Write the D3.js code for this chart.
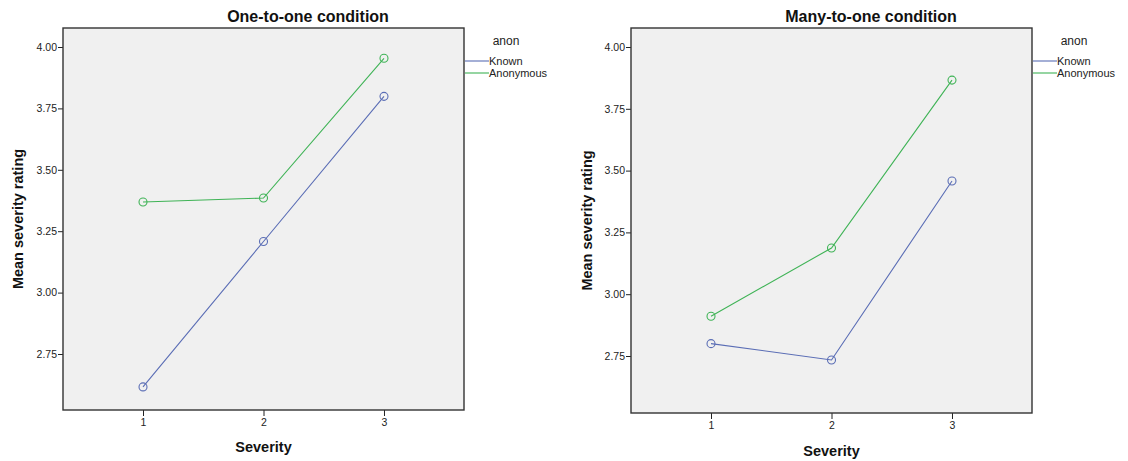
<!DOCTYPE html>
<html>
<head>
<meta charset="utf-8">
<script src="https://cdn.jsdelivr.net/npm/d3@7"></script>
<style>
html,body{margin:0;padding:0;background:#fff;}
svg{display:block;font-family:"Liberation Sans",Arial,sans-serif;}
</style>
</head>
<body>
<svg id="chart" width="1128" height="461"></svg>
<script>
const severity = [1, 2, 3];
const xTickLabels = ["1", "2", "3"];
const yTicks = [2.75, 3.00, 3.25, 3.50, 3.75, 4.00];
const seriesNames = ["Known", "Anonymous"];
const seriesColors = ["#5a6db5", "#3fb356"];
const panelTitles = ["One-to-one condition", "Many-to-one condition"];
const oneToOneKnown = [2.616, 3.208, 3.799];
const oneToOneAnonymous = [3.369, 3.385, 3.954];
const manyToOneKnown = [2.800, 2.734, 3.458];
const manyToOneAnonymous = [2.911, 3.187, 3.866];
const legendTitle = "anon";
const xTitle = "Severity";
const yTitle = "Mean severity rating";

const panels = [
  {title: panelTitles[0], series: [oneToOneKnown, oneToOneAnonymous],
   x0: 63, x1: 464, y0: 28, y1: 410, yAt4: 47, yAt275: 354, titleX: 308, yTitleX: 17, xTitleY: 452},
  {title: panelTitles[1], series: [manyToOneKnown, manyToOneAnonymous],
   x0: 631, x1: 1032, y0: 28, y1: 413, yAt4: 47, yAt275: 356, titleX: 871, yTitleX: 586, xTitleY: 456}
];

const svg = d3.select("#chart");

panels.forEach(p => {
  const g = svg.append("g");
  const x = d3.scaleLinear().domain([1 - 0.664, 3 + 0.664]).range([p.x0, p.x1]);
  const y = d3.scaleLinear().domain([2.75, 4.00]).range([p.yAt275, p.yAt4]);

  g.append("rect").attr("x", p.x0).attr("y", p.y0)
    .attr("width", p.x1 - p.x0).attr("height", p.y1 - p.y0)
    .attr("fill", "#f0f0f0").attr("stroke", "none");

  // y axis
  const yAxis = g.append("g").attr("transform", `translate(${p.x0},0)`)
    .call(d3.axisLeft(y).tickValues(yTicks).tickFormat(d3.format(".2f")).tickSize(5).tickPadding(1));
  yAxis.select(".domain").remove();
  yAxis.selectAll("line").attr("stroke", "#222");
  yAxis.selectAll("text").attr("font-size", 10.5).attr("fill", "#222").attr("font-family", "Liberation Sans, Arial, sans-serif");

  // x axis
  const xAxis = g.append("g").attr("transform", `translate(0,${p.y1})`)
    .call(d3.axisBottom(x).tickValues(severity).tickFormat((d, i) => xTickLabels[i]).tickSize(6).tickPadding(3));
  xAxis.select(".domain").remove();
  xAxis.selectAll("line").attr("stroke", "#222");
  xAxis.selectAll("text").attr("font-size", 10.5).attr("fill", "#222").attr("font-family", "Liberation Sans, Arial, sans-serif");

  // frame
  g.append("rect").attr("x", p.x0).attr("y", p.y0)
    .attr("width", p.x1 - p.x0).attr("height", p.y1 - p.y0)
    .attr("fill", "none").attr("stroke", "#333").attr("stroke-width", 1.4);

  // lines
  const line = d3.line().x((d, i) => x(severity[i])).y(d => y(d));
  p.series.forEach((s, si) => {
    g.append("path").datum(s).attr("d", line)
      .attr("fill", "none").attr("stroke", seriesColors[si]).attr("stroke-width", 1.1);
    g.selectAll(null).data(s).enter().append("circle")
      .attr("cx", (d, i) => x(severity[i])).attr("cy", d => y(d)).attr("r", 4)
      .attr("fill", "none").attr("stroke", seriesColors[si]).attr("stroke-width", 1.1);
  });

  // title
  g.append("text").attr("x", p.titleX).attr("y", 22).attr("text-anchor", "middle")
    .attr("font-size", 16).attr("font-weight", "bold").attr("fill", "#111").text(p.title);

  // x title
  g.append("text").attr("x", x(2)).attr("y", p.xTitleY).attr("text-anchor", "middle")
    .attr("font-size", 14.5).attr("font-weight", "bold").attr("fill", "#111").text(xTitle);

  // y title
  g.append("text").attr("transform", `translate(${p.yTitleX + 6},${(p.y0 + p.y1) / 2}) rotate(-90)`)
    .attr("text-anchor", "middle").attr("font-size", 14.5).attr("font-weight", "bold").attr("fill", "#111")
    .text(yTitle);

  // legend
  const lg = g.append("g").attr("transform", `translate(${p.x1},0)`);
  lg.append("text").attr("x", 42).attr("y", 45).attr("text-anchor", "middle")
    .attr("font-size", 12).attr("fill", "#222").text(legendTitle);
  seriesNames.forEach((n, i) => {
    const yy = 61 + i * 12;
    lg.append("line").attr("x1", 1).attr("x2", 25).attr("y1", yy).attr("y2", yy)
      .attr("stroke", seriesColors[i]).attr("stroke-width", 1.1);
    lg.append("text").attr("x", 25).attr("y", yy + 4).attr("font-size", 11).attr("fill", "#222").text(n);
  });
});
</script>
</body>
</html>
